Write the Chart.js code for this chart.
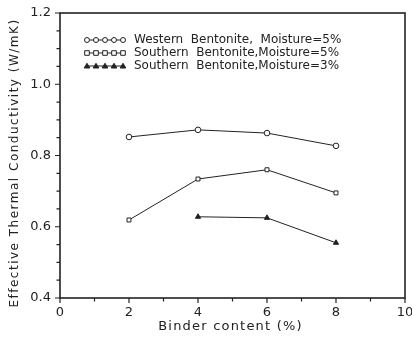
<!DOCTYPE html>
<html>
<head>
<meta charset="utf-8">
<script src="https://cdn.jsdelivr.net/npm/chart.js@4"></script>
<style>
  html, body { margin: 0; padding: 0; background: #fff; }
  #wrap { width: 412px; height: 337px; }
</style>
</head>
<body>
<div id="wrap"><canvas id="chart" width="412" height="337"></canvas></div>
<script>
// binder content (%) and conductivity readings (W/mK)
const binderWestern = [2, 4, 6, 8];
const kWestern5 = [0.852, 0.872, 0.863, 0.827];

const binderSouthern5 = [2, 4, 6, 8];
const kSouthern5 = [0.619, 0.734, 0.760, 0.695];

const binderSouthern3 = [4, 6, 8];
const kSouthern3 = [0.628, 0.625, 0.555];

const seriesLabels = [
    "Western  Bentonite,  Moisture=5%",
    "Southern  Bentonite,Moisture=5%",
    "Southern  Bentonite,Moisture=3%"
];

const xTicks = [0, 2, 4, 6, 8, 10];
const yTicks = [0.4, 0.6, 0.8, 1.0, 1.2];

const xTitle = "Binder content (%)";
const yTitle = "Effective Thermal Conductivity (W/mK)";

const FONT = "'DejaVu Sans', sans-serif";
const INK = "#222";

function toPoints(xs, ys) {
    return xs.map((x, i) => ({ x: x, y: ys[i] }));
}

function makeSet(label, xs, ys, style) {
    return {
        label: label,
        data: toPoints(xs, ys),
        showLine: true,
        borderColor: INK,
        borderWidth: 1,
        pointStyle: style,
        pointRadius: style === "triangle" ? 3 : 2.8,
        pointBackgroundColor: style === "triangle" ? INK : "#fff",
        pointBorderColor: INK,
        pointBorderWidth: 1
    };
}

// frame + outward major/minor ticks
const frameTicks = {
    id: "frameTicks",
    afterDatasetsDraw(chart) {
        const { ctx, chartArea: a, scales } = chart;
        const xs = scales.x, ys = scales.y;
        ctx.save();
        ctx.strokeStyle = INK;
        ctx.lineWidth = 1.6;
        ctx.strokeRect(a.left, a.top, a.right - a.left, a.bottom - a.top);

        ctx.lineWidth = 1.2;
        ctx.beginPath();
        for (let v = 0; v <= 10; v += 1) {
            const px = xs.getPixelForValue(v);
            const len = v % 2 === 0 ? 5 : 3.5;
            ctx.moveTo(px, a.bottom);
            ctx.lineTo(px, a.bottom + len);
        }
        for (let i = 0; i <= 16; i++) {
            const v = 0.4 + i * 0.05;
            const py = ys.getPixelForValue(v);
            const len = i % 4 === 0 ? 5 : 3.5;
            ctx.moveTo(a.left, py);
            ctx.lineTo(a.left - len, py);
        }
        ctx.stroke();
        ctx.restore();
    }
};

// axis titles with spaced lettering
const axisTitles = {
    id: "axisTitles",
    afterDraw(chart) {
        const { ctx, chartArea: a } = chart;
        ctx.save();
        ctx.fillStyle = INK;
        ctx.font = "13px " + FONT;
        ctx.letterSpacing = "1.2px";
        ctx.textAlign = "center";
        ctx.textBaseline = "middle";
        ctx.fillText(xTitle, (a.left + a.right) / 2 - 2, 327);

        ctx.font = "12px " + FONT;
        ctx.letterSpacing = "1.5px";
        ctx.translate(15, 163);
        ctx.rotate(-Math.PI / 2);
        ctx.fillText(yTitle, 0, 0);
        ctx.restore();
    }
};

// legend: a run of five markers followed by the label
const sampleLegend = {
    id: "sampleLegend",
    afterDraw(chart) {
        const { ctx } = chart;
        ctx.save();
        ctx.font = "12px " + FONT;
        ctx.textBaseline = "middle";
        chart.data.datasets.forEach((ds, i) => {
            const y = 40 + i * 13;
            const x0 = 87, step = 9;
            ctx.strokeStyle = INK;
            ctx.lineWidth = 1;
            ctx.beginPath();
            ctx.moveTo(x0, y);
            ctx.lineTo(x0 + step * 4, y);
            ctx.stroke();
            for (let k = 0; k < 5; k++) {
                const cx = x0 + k * step;
                ctx.fillStyle = ds.pointBackgroundColor;
                ctx.beginPath();
                if (ds.pointStyle === "circle") {
                    ctx.arc(cx, y, 2.5, 0, Math.PI * 2);
                } else if (ds.pointStyle === "rect") {
                    ctx.rect(cx - 2.3, y - 2.3, 4.6, 4.6);
                } else {
                    ctx.moveTo(cx, y - 2.7);
                    ctx.lineTo(cx + 2.8, y + 2);
                    ctx.lineTo(cx - 2.8, y + 2);
                    ctx.closePath();
                }
                ctx.fill();
                ctx.stroke();
            }
            ctx.fillStyle = INK;
            ctx.fillText(ds.label, 134, y);
        });
        ctx.restore();
    }
};

new Chart(document.getElementById("chart"), {
    type: "scatter",
    data: {
        datasets: [
            makeSet(seriesLabels[0], binderWestern, kWestern5, "circle"),
            makeSet(seriesLabels[1], binderSouthern5, kSouthern5, "rect"),
            makeSet(seriesLabels[2], binderSouthern3, kSouthern3, "triangle")
        ]
    },
    options: {
        responsive: false,
        animation: false,
        layout: { padding: { top: 13, right: 7, left: 0, bottom: 0 } },
        plugins: {
            legend: { display: false },
            tooltip: { enabled: false }
        },
        scales: {
            x: {
                type: "linear",
                min: 0,
                max: 10,
                afterBuildTicks(scale) {
                    scale.ticks = xTicks.map(v => ({ value: v }));
                },
                afterFit(scale) {
                    scale.height = 39;
                    scale.paddingLeft = 0;
                    scale.paddingRight = 0;
                },
                grid: { display: false, drawTicks: false },
                border: { display: false },
                ticks: {
                    color: INK,
                    padding: 7,
                    font: { family: FONT, size: 13 },
                    callback: v => String(v)
                }
            },
            y: {
                type: "linear",
                min: 0.4,
                max: 1.2,
                afterBuildTicks(scale) {
                    scale.ticks = yTicks.map(v => ({ value: v }));
                },
                afterFit(scale) {
                    scale.width = 60;
                    scale.paddingTop = 0;
                    scale.paddingBottom = 0;
                },
                grid: { display: false, drawTicks: false },
                border: { display: false },
                ticks: {
                    color: INK,
                    padding: 9,
                    font: { family: FONT, size: 13 },
                    callback: v => Number(v).toFixed(1)
                }
            }
        }
    },
    plugins: [frameTicks, axisTitles, sampleLegend]
});
</script>
</body>
</html>
